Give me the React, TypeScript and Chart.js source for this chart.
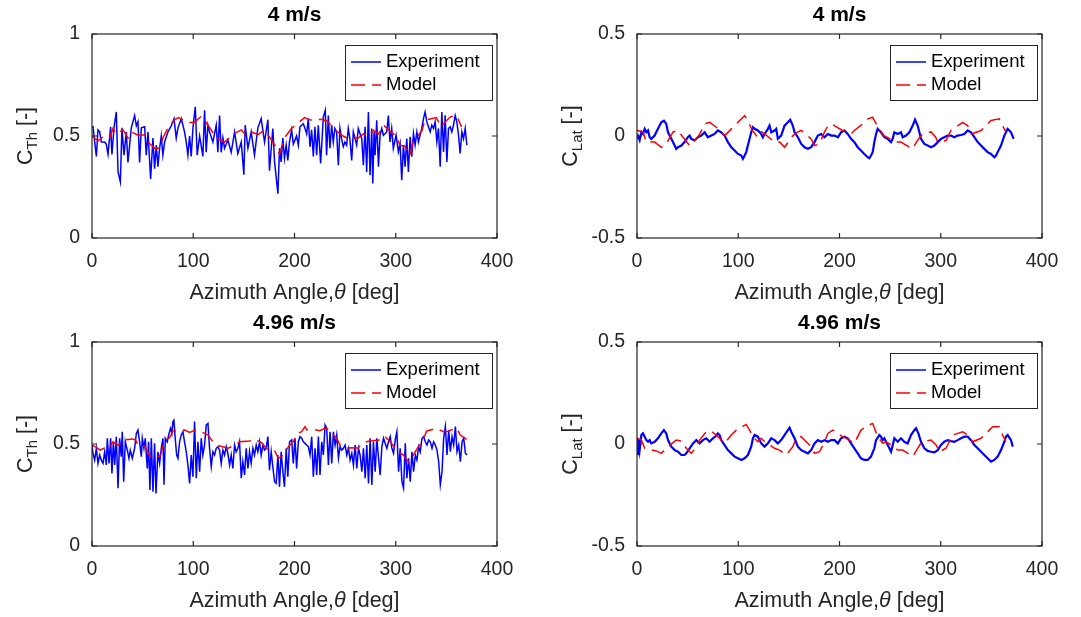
import { useEffect, useRef } from "react";
import { Chart, registerables } from "chart.js";

Chart.register(...registerables);

const FONT = '"Liberation Sans", Arial, Helvetica, sans-serif';
const AXIS_COLOR = "#262626";
const EXP_COLOR = "#0000ff";
const MODEL_COLOR = "#ff0000";

const xTickValues = [0, 100, 200, 300, 400];
const thrustTickValues = [0, 0.5, 1];
const lateralTickValues = [-0.5, 0, 0.5];
const panelTitles = ["4 m/s", "4 m/s", "4.96 m/s", "4.96 m/s"];
const legendLabels = ["Experiment", "Model"];
const xAxisLabel = ["Azimuth Angle,", "\u03b8", " [deg]"];

// ---- C_Th, 4 m/s ----
const thExp4Angles = [0,1,4.3,5.9,7.6,9.2,12.5,14.1,15.8,18.4,19.7,21.7,24,25.7,28,29.6,31.6,33.9,35.5,38.8,42.1,43.8,45.4,47,48.7,52,53.6,55.3,57.9,60.2,61.8,63.5,65.1,66.8,68.4,70,71.7,75,78.3,81,83.2,84.9,88.2,91.4,93.1,94.7,96.4,98,99.7,102,103.9,106.3,109.5,111.2,112.8,114.5,116.1,119.4,122.7,124.3,126,127.6,129.3,130.9,134.2,137.5,140.8,144,147.4,150,151.3,154,157.2,160.5,163.8,167.1,170.4,173.7,175.3,178.6,180.3,183.6,185.2,186.8,188.5,190.1,191.8,193.4,195,
197.2,198.8,202,203.8,205.4,208.7,210.4,212,213.6,215.3,216.9,218.6,220.2,221.9,223.5,225.8,228.5,230.4,231.7,233.4,235,236.7,238.3,239.9,241.6,243.3,244.9,246.5,248.2,249.8,251.5,253.1,254.7,256.5,258.1,259.8,261.4,263,266.4,268,269.7,271.3,273,274.6,276.3,277.3,278.6,279.6,281.2,282.9,284.5,286.2,287.8,291.1,292.7,294.3,296,297.6,300.3,302.6,304.3,305.9,307.6,309.2,310.9,312.5,314.2,315.8,317.5,319.1,320.8,322.4,325.7,327.4,329,330.7,332.3,334,335.6,337.3,338.9,340.6,342.2,343.9,345.5,347.2,348.8,350.5,352.1,353.8,355.4,357,358.7,360.3,362,363.6,365.3,366.9,368.6,370.2];
const thExp4Values = [0.54,0.545,0.40,0.53,0.52,0.47,0.47,0.46,0.41,0.545,0.41,0.54,0.618,0.325,0.275,0.54,0.406,0.52,0.37,0.54,0.60,0.55,0.57,0.37,0.54,0.545,0.406,0.52,0.29,0.49,0.34,0.455,0.35,0.44,0.50,0.406,0.47,0.52,0.55,0.585,0.49,0.54,0.585,0.52,0.47,0.406,0.50,0.40,0.54,0.643,0.406,0.50,0.40,0.626,0.42,0.553,0.52,0.47,0.553,0.42,0.60,0.42,0.49,0.44,0.48,0.42,0.52,0.414,0.47,0.31,0.553,0.44,0.52,0.406,0.54,0.585,0.47,0.58,0.33,0.537,0.373,0.217,0.44,0.373,0.49,0.39,0.455,0.38,0.47,
0.53,0.46,0.50,0.455,0.545,0.56,0.537,0.51,0.585,0.447,0.53,0.40,0.545,0.406,0.553,0.365,0.594,0.626,0.406,0.60,0.44,0.553,0.47,0.537,0.52,0.357,0.537,0.487,0.447,0.47,0.455,0.537,0.487,0.38,0.52,0.487,0.455,0.537,0.487,0.357,0.545,0.324,0.618,0.308,0.537,0.267,0.52,0.406,0.577,0.35,0.504,0.537,0.504,0.52,0.60,0.471,0.537,0.439,0.504,0.422,0.463,0.283,0.455,0.349,0.487,0.324,0.496,0.398,0.512,0.455,0.52,0.471,0.537,0.585,0.618,0.569,0.545,0.52,0.553,0.537,0.569,0.471,0.537,0.349,0.618,0.422,0.602,0.373,0.537,0.545,0.52,0.553,0.60,0.569,0.504,0.414,0.52,0.487,0.537,0.455];
const thModel4Angles = [0,6,11,17.5,20.7,24,30.6,35.6,38.8,45,52,55.3,62,67,70,75,81.6,85.6,95,101,108,114.6,123,131,139,147.5,152,157,164,170.5,180,185,190,197,205,210,216,228,233,238,248,253,260,263,268,273,278,283,288,294,301,304,309,314,317,326,329,333,340,345,349,354,360,365];
const thModel4Values = [0.50,0.476,0.496,0.49,0.537,0.51,0.53,0.49,0.52,0.505,0.505,0.47,0.44,0.44,0.49,0.54,0.58,0.59,0.566,0.566,0.597,0.553,0.49,0.47,0.507,0.53,0.504,0.52,0.507,0.53,0.46,0.41,0.49,0.537,0.57,0.59,0.578,0.582,0.57,0.537,0.50,0.487,0.49,0.49,0.51,0.496,0.528,0.51,0.553,0.524,0.496,0.455,0.45,0.406,0.47,0.528,0.582,0.582,0.59,0.545,0.57,0.594,0.60,0.545];

// ---- C_Lat, 4 m/s ----
const latExp4Angles = [0,1,2.6,4.3,5.9,7.6,9.2,10.9,12.5,14.1,17.4,20.7,24,26.6,28.9,30.6,33.9,37.2,38.8,40.5,43.8,47,50.3,52,53.6,56.9,60.2,63.5,66.8,70,73.4,76.6,79.9,83.2,86.5,89.8,93.1,96.4,99.7,103,104.6,106.3,107.9,109.5,112.8,114.5,116.1,119.4,122.7,124.3,126,129.3,130.9,132.6,135.9,137.5,139.1,142.4,145.7,149,151.3,153.9,155.6,158.9,162.2,165.5,168.8,172,175.3,178.6,181.9,185.2,188.5,191.8,195.1,198.4,
201.5,204.8,208.1,211.4,214.7,218,221.2,224.5,227.8,229.5,231.1,232.8,234.4,236.1,237.7,241,244.3,247.6,250.9,252.5,254.2,257.4,260.7,262.4,265.7,269,272.3,274.6,277.2,278.9,280.5,283.8,287.1,290.4,293.7,297,300.2,303.5,306.8,310.1,313.4,316.7,320,323.3,326.6,329.9,333.2,336.5,339.8,343,346.3,349.6,352.9,354.6,356.2,359.5,362.8,366.1,369.4,372];
const latExp4Values = [-0.014,0.0,-0.02,0.02,0.01,0.035,0.018,0.027,-0.006,-0.014,0.002,0.035,0.067,0.075,0.059,0.018,-0.014,-0.047,-0.063,-0.055,-0.047,-0.03,-0.006,0.002,-0.014,-0.022,-0.006,0.002,0.018,-0.006,0.002,0.01,0.027,0.018,0.002,-0.03,-0.055,-0.071,-0.088,-0.096,-0.112,-0.096,-0.079,-0.047,0.018,0.043,0.035,0.027,0.01,-0.006,0.01,0.035,0.051,0.018,0.027,0.035,-0.014,0.002,0.051,0.067,0.08,0.051,0.018,-0.006,-0.039,-0.055,-0.063,-0.055,-0.03,0.002,0.01,-0.006,0.01,0.002,0.002,-0.006,
0.018,0.027,0.01,-0.014,-0.03,-0.055,-0.071,-0.088,-0.104,-0.109,-0.096,-0.079,-0.03,0.01,0.035,0.018,-0.006,-0.014,-0.03,-0.014,0.018,0.01,0.018,-0.006,0.002,0.018,0.051,0.08,0.051,0.018,-0.014,-0.039,-0.047,-0.055,-0.047,-0.03,-0.014,-0.006,0.002,0.002,-0.006,0.002,0.005,0.01,0.027,0.018,-0.006,-0.03,-0.047,-0.063,-0.079,-0.088,-0.104,-0.096,-0.079,-0.047,0.002,0.035,0.018,-0.014];
const latModel4Angles = [0,6,9.2,17.5,24,29,35.6,40.5,45.4,52,58.6,62,66.8,71.8,78.4,86.6,93.2,98.1,106.3,109.6,113,117.9,121,126,136,140.9,145.8,154,159,162.3,172,175.5,180,185.3,188.6,192,203,208,211.4,214.6,223,228,232.7,239,244,255.8,260.7,272,277,282,290.4,295,297,305.2,310,321.6,326.5,330,340,344.7,349.6,357.8,361,364.4];
const latModel4Values = [0.027,0.02,-0.03,-0.03,-0.055,-0.039,0.02,0.027,-0.006,-0.047,-0.014,0.01,0.059,0.067,0.043,0.002,0.035,0.059,0.10,0.076,0.035,0.002,0.027,0.01,-0.03,-0.03,-0.055,0.002,0.02,0.027,-0.014,-0.047,-0.039,0.02,0.051,0.059,0.027,0.02,0.01,0.027,0.059,0.084,0.092,0.035,0.002,-0.03,-0.03,-0.063,-0.022,0.01,0.02,-0.006,-0.03,-0.022,0.027,0.067,0.051,0.01,0.027,0.051,0.076,0.084,0.051,0.02];

// ---- C_Th, 4.96 m/s ----
const thExp5Angles = [0,1,2.6,4.3,5.9,7.6,9.2,10.9,12.5,14.1,15.1,16.8,18.4,19.7,21.1,22.4,24,25.7,27.3,28.9,29.9,31.3,32.9,34.9,36.5,37.8,39.8,42.1,43.8,45.4,47,48.7,49.7,51.3,52.6,54.6,55.9,57.2,58.6,60.2,61.8,63.2,65.1,66.8,68.4,70.1,71.1,72.4,74.3,75.7,77.6,78.9,79.9,80.9,82.2,83.6,84.9,86.5,88.2,89.8,91.4,93.1,94.7,96.4,98,99.7,101.3,103,104.6,106.3,107.9,109.5,111.2,112.8,114.5,116.1,117.8,119.4,121.1,122.7,124.3,126,127.6,129.3,130.9,132.6,134.2,135.9,137.5,139.1,140.8,142.4,144.1,145.7,147.4,149,150.7,152.3,154,155.6,157.2,158.9,160.5,162.2,163.8,165.5,167.1,168.8,170.4,172,173.7,175.3,177,178.6,180.3,181.9,183.6,185.2,186.8,188.5,190.1,191.8,193.4,195.1,
197.2,198.8,200.5,202.1,203.8,205.4,207.1,208.7,210.4,212,213.7,215.3,217,218.6,220.3,221.9,223.6,225.2,226.9,228.5,230.2,231.8,233.5,235.1,236.8,238.4,240.1,241.7,243.4,245,246.7,248.3,250,251.6,253.3,254.9,256.6,258.2,259.9,261.5,263.2,264.8,266.5,268.1,269.8,271.4,273.1,274.7,276.4,278,279.7,281.3,283,284.6,286.3,287.9,289.6,291.2,292.9,294.5,296.2,297.8,299.5,301.1,302.8,304.4,306.1,307.7,309.4,311,312.7,314.3,316,317.6,319.3,320.9,322.6,324.2,325.9,327.5,329.2,330.8,332.5,334.1,335.8,337.4,339.1,340.7,342.4,344,345.7,347.3,349,350.6,352.3,353.9,355.6,357.2,358.9,360.5,362.2,363.8,365.5,367.1,368.8,370.4];
const thExp5Values = [0.495,0.454,0.421,0.479,0.405,0.446,0.421,0.405,0.462,0.397,0.528,0.405,0.528,0.356,0.511,0.397,0.536,0.283,0.528,0.438,0.56,0.315,0.511,0.47,0.43,0.47,0.43,0.479,0.552,0.568,0.511,0.438,0.528,0.479,0.528,0.38,0.511,0.274,0.528,0.266,0.503,0.258,0.462,0.405,0.479,0.528,0.30,0.528,0.511,0.544,0.577,0.552,0.61,0.617,0.528,0.446,0.43,0.511,0.544,0.56,0.511,0.462,0.397,0.307,0.446,0.34,0.61,0.332,0.511,0.364,0.528,0.446,0.495,0.593,0.601,0.479,0.389,0.462,0.446,0.479,0.487,0.47,0.405,0.47,0.446,0.487,0.454,0.397,0.446,0.38,0.495,0.462,0.479,0.511,0.332,0.413,0.348,0.479,0.38,0.462,0.405,0.479,0.446,0.495,0.462,0.511,0.446,0.495,0.47,0.479,0.536,0.372,0.462,0.389,0.315,0.307,0.446,0.29,0.462,0.364,0.29,0.479,0.34,0.511,
0.52,0.405,0.528,0.38,0.511,0.536,0.528,0.511,0.503,0.495,0.487,0.446,0.536,0.34,0.479,0.348,0.536,0.348,0.511,0.446,0.593,0.577,0.397,0.56,0.405,0.56,0.495,0.544,0.43,0.487,0.47,0.479,0.495,0.446,0.479,0.421,0.454,0.397,0.495,0.38,0.479,0.446,0.364,0.479,0.332,0.495,0.307,0.528,0.299,0.511,0.364,0.528,0.43,0.348,0.487,0.528,0.503,0.479,0.511,0.536,0.479,0.454,0.52,0.56,0.364,0.479,0.315,0.283,0.503,0.332,0.43,0.315,0.462,0.364,0.446,0.421,0.487,0.462,0.528,0.536,0.511,0.495,0.52,0.511,0.479,0.511,0.495,0.47,0.413,0.30,0.364,0.528,0.585,0.446,0.568,0.462,0.536,0.495,0.585,0.462,0.495,0.413,0.511,0.528,0.454,0.446];
const thModel5Angles = [0,4,8,13,17,20.7,25.7,29,32,40,43,45.4,49,52,57,62,65,68,71.7,76.6,80,91.5,96.4,101.5,104.6,114.6,119.4,122.8,134.5,141,146,155.6,159,164,167,174,180.5,184,189,194,198.5,203,207,210.4,212,220,225,230,233.5,241.6,245,249.9,254.9,263,266.5,271,274.5,286,289.4,294.5,302.5,307.5,312.5,317.3,322.3,325.9,330.6,340.5,347,352,357,360,363.8,370];
const thModel5Values = [0.495,0.485,0.47,0.482,0.482,0.511,0.495,0.508,0.52,0.525,0.52,0.495,0.487,0.49,0.443,0.433,0.436,0.45,0.52,0.53,0.564,0.568,0.557,0.568,0.568,0.544,0.511,0.495,0.479,0.495,0.511,0.515,0.524,0.515,0.508,0.47,0.466,0.43,0.446,0.487,0.511,0.552,0.56,0.585,0.57,0.57,0.565,0.577,0.572,0.528,0.495,0.48,0.482,0.48,0.503,0.511,0.515,0.52,0.536,0.511,0.462,0.446,0.413,0.446,0.487,0.508,0.564,0.577,0.56,0.563,0.573,0.577,0.544,0.523];

// ---- C_Lat, 4.96 m/s ----
const latExp5Angles = [0,0.5,1,1.5,2.6,4.3,5.9,7.6,9.2,10.9,12.5,14.1,17.4,20.7,24,26.6,28.9,30.6,33.9,37.2,40.5,43.8,47,48.7,52,55.3,58.6,60.2,61.8,65.1,68.4,71.7,75,77.3,79.9,81.6,83.2,86.5,89.8,93.1,96.4,99.7,103,106.3,109.5,112.8,114.5,116.1,119.4,122.7,126,129.3,132.6,135.9,139.1,142.4,145.7,149,150.7,152.3,155.6,158.9,162.2,165.5,168.8,172,175.3,178.6,181.9,185.2,188.5,191.8,195.1,198.4,
201.5,204.8,208.1,211.4,214.7,218,221.2,224.5,227.8,231.1,234.4,236.1,239.4,241,242.7,244.3,246,249.3,250.9,252.6,254.2,257.5,260.7,264,267.3,270.6,273.9,275.6,277.9,280.5,283.8,287.1,290.4,293.7,297,300.2,303.5,306.8,310.1,313.4,316.7,320,323.3,326.6,329.9,333.2,336.5,339.8,343,346.3,349.6,352.9,356.2,359.5,362.8,364.4,366.1,369.4,371.1];
const latExp5Values = [-0.02,0.03,-0.05,0.02,-0.03,0.044,0.052,0.036,0.019,0.011,0.019,0.003,0.011,0.028,0.052,0.068,0.052,0.019,-0.013,-0.03,-0.038,-0.054,-0.054,-0.046,-0.021,0.003,0.019,0.011,0.003,0.019,0.028,0.011,0.028,0.036,0.052,0.044,0.019,-0.005,-0.03,-0.046,-0.062,-0.070,-0.078,-0.070,-0.054,-0.013,0.028,0.044,0.036,0.003,-0.013,0.003,0.028,0.019,0.003,0.019,0.044,0.068,0.08,0.060,0.028,-0.013,-0.030,-0.038,-0.046,-0.030,0.003,0.019,0.011,0.019,0.011,0.019,0.019,0.003,
0.028,0.036,0.028,0.003,-0.021,-0.046,-0.070,-0.078,-0.078,-0.062,-0.021,0.019,0.044,0.036,0.019,0.028,0.011,-0.021,-0.038,-0.005,0.028,0.011,0.028,0.011,0.003,0.044,0.068,0.077,0.052,0.011,-0.021,-0.034,-0.038,-0.041,-0.030,-0.005,0.011,0.019,0.014,0.011,0.019,0.028,0.036,0.036,0.019,-0.005,-0.021,-0.038,-0.054,-0.070,-0.087,-0.078,-0.062,-0.030,0.011,0.036,0.044,0.019,-0.013];
const latModel5Angles = [0,4.3,7.6,19.1,24,30.6,38.8,43.8,48.7,53.6,58.6,61.8,68.4,73.4,79.9,86.5,93.1,98,107.9,111.2,114.5,119.4,122.7,126,135.9,140.8,147.4,153.9,157.2,162.2,172,175.3,180.3,185.2,188.5,193.4,203.1,208.1,214.7,221.2,227.8,232.8,237.7,242.7,246,254.2,257.5,262.4,272.3,277.2,281.2,290.4,295.4,298.7,305.2,308.5,311.8,321.7,326.6,331.5,339.8,346.3,351.3,357.8,361.1,364.4];
const latModel5Values = [0.028,0.02,-0.021,-0.034,-0.046,-0.013,0.019,0.015,-0.021,-0.046,-0.013,0.019,0.060,0.064,0.036,0.003,0.044,0.068,0.096,0.068,0.036,0.011,0.028,0.011,-0.021,-0.03,-0.054,-0.013,0.028,0.036,-0.013,-0.046,-0.038,0.011,0.052,0.068,0.036,0.024,0.003,0.068,0.090,0.101,0.036,0.003,0.011,-0.013,-0.030,-0.030,-0.062,-0.021,0.011,0.019,-0.005,-0.038,-0.021,0.011,0.044,0.060,0.044,0.011,0.028,0.060,0.085,0.085,0.044,0.011];

const TICK_SIZE = 19.5;
const LABEL_SIZE = 21.5;
const TITLE_SIZE = 21;
const LEGEND_SIZE = 18.5;

type Panel = {
  title: string;
  sub: string;
  yMin: number;
  yMax: number;
  yTicks: number[];
  expA: number[];
  expV: number[];
  modA: number[];
  modV: number[];
  expWidth: number;
  left: number;
  top: number;
  width: number;
  height: number;
  padRight: number;
};

const panels: Panel[] = [
  { title: panelTitles[0], sub: "Th", yMin: 0, yMax: 1, yTicks: thrustTickValues, expA: thExp4Angles, expV: thExp4Values, modA: thModel4Angles, modV: thModel4Values, expWidth: 1.5, left: 0, top: 0, width: 540, height: 308, padRight: 43 },
  { title: panelTitles[1], sub: "Lat", yMin: -0.5, yMax: 0.5, yTicks: lateralTickValues, expA: latExp4Angles, expV: latExp4Values, modA: latModel4Angles, modV: latModel4Values, expWidth: 2.2, left: 545, top: 0, width: 536, height: 308, padRight: 39 },
  { title: panelTitles[2], sub: "Th", yMin: 0, yMax: 1, yTicks: thrustTickValues, expA: thExp5Angles, expV: thExp5Values, modA: thModel5Angles, modV: thModel5Values, expWidth: 1.5, left: 0, top: 308, width: 540, height: 308, padRight: 43 },
  { title: panelTitles[3], sub: "Lat", yMin: -0.5, yMax: 0.5, yTicks: lateralTickValues, expA: latExp5Angles, expV: latExp5Values, modA: latModel5Angles, modV: latModel5Values, expWidth: 2.2, left: 545, top: 308, width: 536, height: 308, padRight: 39 },
];

function toPoints(a: number[], v: number[]) {
  return a.map((x, i) => ({ x, y: v[i] }));
}

function makeDecor(p: Panel) {
  return {
    id: "decor",
    afterDraw(chart: any) {
      const { ctx, chartArea: a, scales } = chart;
      ctx.save();
      // box
      ctx.strokeStyle = AXIS_COLOR;
      ctx.lineWidth = 1.2;
      ctx.setLineDash([]);
      ctx.strokeRect(a.left, a.top, a.right - a.left, a.bottom - a.top);
      // inward ticks
      const TL = 5;
      ctx.beginPath();
      xTickValues.forEach((v) => {
        const px = scales.x.getPixelForValue(v);
        ctx.moveTo(px, a.bottom);
        ctx.lineTo(px, a.bottom - TL);
        ctx.moveTo(px, a.top);
        ctx.lineTo(px, a.top + TL);
      });
      p.yTicks.forEach((v) => {
        const py = scales.y.getPixelForValue(v);
        ctx.moveTo(a.left, py);
        ctx.lineTo(a.left + TL, py);
        ctx.moveTo(a.right, py);
        ctx.lineTo(a.right - TL, py);
      });
      ctx.stroke();

      // title
      ctx.fillStyle = "#000";
      ctx.font = `bold ${TITLE_SIZE}px ${FONT}`;
      ctx.textAlign = "center";
      ctx.textBaseline = "middle";
      ctx.fillText(p.title, (a.left + a.right) / 2, 15);

      // x label with italic theta
      ctx.fillStyle = AXIS_COLOR;
      const fonts = [`${LABEL_SIZE}px ${FONT}`, `italic ${LABEL_SIZE}px ${FONT}`, `${LABEL_SIZE}px ${FONT}`];
      const widths = xAxisLabel.map((t, i) => {
        ctx.font = fonts[i];
        return ctx.measureText(t).width;
      });
      let x = (a.left + a.right) / 2 - widths.reduce((s, w) => s + w, 0) / 2;
      ctx.textAlign = "left";
      xAxisLabel.forEach((t, i) => {
        ctx.font = fonts[i];
        ctx.fillText(t, x, 293);
        x += widths[i];
      });

      // y label C_sub [-]
      ctx.save();
      ctx.translate(26, (a.top + a.bottom) / 2);
      ctx.rotate(-Math.PI / 2);
      const mainF = `${LABEL_SIZE}px ${FONT}`;
      const subF = `${Math.round(LABEL_SIZE * 0.72)}px ${FONT}`;
      const yParts = [
        { t: "C", f: mainF, dy: 0 },
        { t: p.sub, f: subF, dy: LABEL_SIZE * 0.3 },
        { t: " [-]", f: mainF, dy: 0 },
      ];
      const yw = yParts.map((q) => {
        ctx.font = q.f;
        return ctx.measureText(q.t).width;
      });
      let yx = -yw.reduce((s, w) => s + w, 0) / 2;
      yParts.forEach((q, i) => {
        ctx.font = q.f;
        ctx.fillText(q.t, yx, q.dy);
        yx += yw[i];
      });
      ctx.restore();

      // legend
      const bx1 = a.right - 4;
      const bx0 = bx1 - 148;
      const by0 = a.top + 11;
      const by1 = a.top + 67;
      ctx.fillStyle = "#fff";
      ctx.fillRect(bx0, by0, bx1 - bx0, by1 - by0);
      ctx.strokeStyle = AXIS_COLOR;
      ctx.lineWidth = 1;
      ctx.strokeRect(bx0 + 0.5, by0 + 0.5, bx1 - bx0 - 1, by1 - by0 - 1);
      const rows = [a.top + 28, a.top + 51];
      ctx.lineWidth = 1.5;
      ctx.strokeStyle = EXP_COLOR;
      ctx.beginPath();
      ctx.moveTo(bx0 + 6, rows[0]);
      ctx.lineTo(bx0 + 36, rows[0]);
      ctx.stroke();
      ctx.strokeStyle = MODEL_COLOR;
      ctx.setLineDash([14, 7]);
      ctx.beginPath();
      ctx.moveTo(bx0 + 6, rows[1]);
      ctx.lineTo(bx0 + 36, rows[1]);
      ctx.stroke();
      ctx.setLineDash([]);
      ctx.fillStyle = "#000";
      ctx.font = `${LEGEND_SIZE}px ${FONT}`;
      ctx.textAlign = "left";
      ctx.textBaseline = "middle";
      ctx.fillText(legendLabels[0], bx0 + 41, rows[0]);
      ctx.fillText(legendLabels[1], bx0 + 41, rows[1]);
      ctx.restore();
    },
  };
}

function makeConfig(p: Panel): any {
  return {
    type: "scatter",
    data: {
      datasets: [
        {
          label: legendLabels[1],
          data: toPoints(p.modA, p.modV),
          showLine: true,
          borderColor: MODEL_COLOR,
          borderWidth: 1.5,
          borderDash: [14, 7],
          pointRadius: 0,
          fill: false,
          order: 1,
        },
        {
          label: legendLabels[0],
          data: toPoints(p.expA, p.expV),
          showLine: true,
          borderColor: EXP_COLOR,
          borderWidth: p.expWidth,
          pointRadius: 0,
          fill: false,
          order: 2,
        },
      ],
    },
    options: {
      animation: false,
      responsive: false,
      devicePixelRatio: 1,
      events: [],
      layout: { padding: { top: 34, right: p.padRight, bottom: 0, left: 0 } },
      plugins: {
        legend: { display: false },
        title: { display: false },
        tooltip: { enabled: false },
      },
      elements: { line: { tension: 0 }, point: { radius: 0 } },
      scales: {
        x: {
          type: "linear",
          min: 0,
          max: 400,
          grid: { display: false },
          border: { display: false },
          afterBuildTicks: (s: any) => {
            s.ticks = xTickValues.map((value) => ({ value }));
          },
          afterFit: (s: any) => {
            s.height = 70;
          },
          ticks: {
            font: { family: FONT, size: TICK_SIZE },
            color: AXIS_COLOR,
            padding: 4,
            maxRotation: 0,
            autoSkip: false,
            callback: (v: any) => String(v),
          },
        },
        y: {
          type: "linear",
          min: p.yMin,
          max: p.yMax,
          grid: { display: false },
          border: { display: false },
          afterBuildTicks: (s: any) => {
            s.ticks = p.yTicks.map((value) => ({ value }));
          },
          afterFit: (s: any) => {
            s.width = 92;
          },
          ticks: {
            font: { family: FONT, size: TICK_SIZE },
            color: AXIS_COLOR,
            padding: 4,
            autoSkip: false,
            callback: (v: any) => String(v),
          },
        },
      },
    },
    plugins: [makeDecor(p)],
  };
}

function PanelCanvas({ p }: { p: Panel }) {
  const ref = useRef<HTMLCanvasElement>(null);
  useEffect(() => {
    const chart = new Chart(ref.current as HTMLCanvasElement, makeConfig(p));
    return () => chart.destroy();
  }, [p]);
  return (
    <canvas
      ref={ref}
      width={p.width}
      height={p.height}
      style={{ position: "absolute", left: p.left, top: p.top, width: p.width, height: p.height }}
    />
  );
}

export default function App() {
  return (
    <div style={{ position: "absolute", left: 0, top: 0, width: 1081, height: 617, background: "#fff" }}>
      {panels.map((p, i) => (
        <PanelCanvas key={i} p={p} />
      ))}
    </div>
  );
}
